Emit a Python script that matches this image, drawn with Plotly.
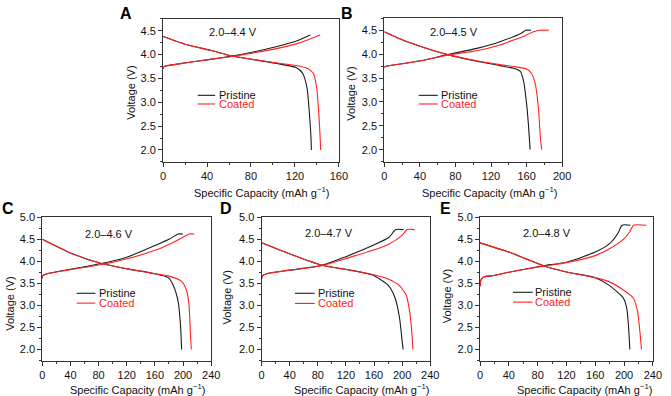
import plotly.graph_objects as go

W, H = 671, 396
FONT = "Arial, Liberation Sans, sans-serif"
BLACK = "#1a1a1a"
RED = "#ff2222"

# ---------------- data (capacity in mAh/g, voltage in V) ----------------
# Panel A: 2.0-4.4 V
A_pri_chg_cap = [0, 0.5, 2, 10, 21, 43, 63, 81, 102, 122, 134]
A_pri_chg_v = [3.70, 3.74, 3.76, 3.79, 3.83, 3.90, 3.97, 4.05, 4.16, 4.29, 4.41]
A_coa_chg_cap = [0, 0.5, 2, 10, 21, 43, 63, 81, 102, 122, 134, 143]
A_coa_chg_v = [3.70, 3.74, 3.76, 3.79, 3.83, 3.90, 3.96, 4.03, 4.12, 4.23, 4.33, 4.41]
A_pri_dis_cap = [0, 21, 43, 63, 81, 102, 121, 127, 131, 133, 134.5, 135]
A_pri_dis_v = [4.38, 4.21, 4.09, 3.97, 3.90, 3.82, 3.73, 3.61, 3.30, 2.82, 2.32, 2.00]
A_coa_dis_cap = [0, 21, 43, 63, 81, 102, 121, 131.5, 136.8, 139.8, 141.6, 142.8, 143.4]
A_coa_dis_v = [4.38, 4.21, 4.09, 3.97, 3.90, 3.83, 3.77, 3.71, 3.61, 3.30, 2.82, 2.32, 2.00]

# Panel B: 2.0-4.5 V
B_pri_chg_cap = [0, 0.5, 3, 20, 41, 71, 104, 130, 155, 159, 165]
B_pri_chg_v = [3.71, 3.74, 3.75, 3.80, 3.86, 3.99, 4.12, 4.26, 4.45, 4.50, 4.50]
B_coa_chg_cap = [0, 0.5, 3, 20, 41, 71, 104, 130, 146, 155, 168, 175, 185]
B_coa_chg_v = [3.71, 3.74, 3.75, 3.80, 3.86, 3.98, 4.07, 4.19, 4.30, 4.36, 4.47, 4.50, 4.50]
B_pri_dis_cap = [0, 20, 41, 71, 104, 130, 146, 153, 156.6, 160, 162, 164]
B_pri_dis_v = [4.47, 4.30, 4.16, 3.99, 3.85, 3.76, 3.70, 3.64, 3.44, 2.97, 2.55, 2.00]
B_coa_dis_cap = [0, 20, 41, 71, 104, 130, 146, 160, 165.4, 170, 173.6, 175.5, 177]
B_coa_dis_v = [4.47, 4.30, 4.16, 3.99, 3.86, 3.78, 3.74, 3.69, 3.60, 3.36, 2.81, 2.26, 2.00]

# Panel C: 2.0-4.6 V
C_pri_chg_cap = [0, 1, 7, 40, 84, 121, 160, 180, 193, 200]
C_pri_chg_v = [3.61, 3.68, 3.72, 3.82, 3.95, 4.10, 4.36, 4.50, 4.62, 4.62]
C_coa_chg_cap = [0, 1, 7, 40, 84, 121, 160, 186, 205, 209, 216]
C_coa_chg_v = [3.61, 3.68, 3.72, 3.81, 3.93, 4.06, 4.25, 4.43, 4.59, 4.62, 4.62]
C_pri_dis_cap = [0, 40, 84, 121, 160, 179, 186, 193, 196.3, 198]
C_pri_dis_v = [4.50, 4.19, 3.95, 3.83, 3.72, 3.63, 3.46, 3.09, 2.57, 2.00]
C_coa_dis_cap = [0, 40, 84, 121, 160, 179, 197.6, 204.7, 208.4, 210.3, 211.7]
C_coa_dis_v = [4.50, 4.19, 3.95, 3.83, 3.72, 3.67, 3.55, 3.35, 3.02, 2.42, 2.00]

# Panel D: 2.0-4.7 V
D_pri_chg_cap = [0, 1, 7, 40, 86, 119, 158, 181, 191, 202]
D_pri_chg_v = [3.60, 3.67, 3.72, 3.80, 3.91, 4.10, 4.36, 4.54, 4.72, 4.72]
D_coa_chg_cap = [0, 1, 7, 40, 86, 119, 158, 181, 200, 207, 218]
D_coa_chg_v = [3.60, 3.67, 3.72, 3.80, 3.90, 4.06, 4.25, 4.39, 4.59, 4.72, 4.72]
D_pri_dis_cap = [0, 40, 86, 119, 158, 180, 190, 196.3, 199.5, 201.4]
D_pri_dis_v = [4.42, 4.17, 3.91, 3.82, 3.69, 3.46, 3.17, 2.72, 2.27, 2.00]
D_coa_dis_cap = [0, 40, 86, 119, 158, 180, 195.4, 205.6, 210.7, 214, 215.4]
D_coa_dis_v = [4.42, 4.17, 3.91, 3.82, 3.70, 3.60, 3.46, 3.24, 2.87, 2.35, 2.00]

# Panel E: 2.0-4.8 V
E_pri_chg_cap = [0, 1.4, 6, 19.5, 42, 88, 120, 160, 179, 192, 197, 209]
E_pri_chg_v = [3.43, 3.58, 3.65, 3.68, 3.76, 3.90, 3.98, 4.21, 4.39, 4.65, 4.82, 4.82]
E_coa_chg_cap = [0, 1.4, 6, 19.5, 42, 88, 120, 160, 179, 199, 208, 213, 231]
E_coa_chg_v = [3.43, 3.58, 3.65, 3.68, 3.76, 3.89, 3.97, 4.13, 4.28, 4.50, 4.67, 4.82, 4.82]
E_pri_dis_cap = [0, 40, 80, 88, 120, 160, 179, 199, 203.7, 206, 208]
E_pri_dis_v = [4.42, 4.21, 3.95, 3.90, 3.76, 3.63, 3.46, 3.17, 2.94, 2.57, 2.00]
E_coa_dis_cap = [0, 40, 80, 88, 120, 160, 179, 199, 212.8, 218.7, 221.9, 224.2]
E_coa_dis_v = [4.42, 4.21, 3.95, 3.90, 3.76, 3.63, 3.54, 3.35, 3.17, 2.87, 2.42, 2.00]

panel_letters = ["A", "B", "C", "D", "E"]
window_labels = ["2.0–4.4 V", "2.0–4.5 V", "2.0–4.6 V", "2.0–4.7 V", "2.0–4.8 V"]
series_names = ["Pristine", "Coated"]
x_title = "Specific Capacity (mAh g<sup>−1</sup>)"
y_title = "Voltage (V)"

# ---------------- layout geometry (pixels) ----------------
panels = [
    dict(dom=(163, 342, 13, 158.3), xr=[0, 160], yr=[1.75, 4.75],
         data=[(A_pri_chg_cap, A_pri_chg_v, 0), (A_pri_dis_cap, A_pri_dis_v, 0),
               (A_coa_chg_cap, A_coa_chg_v, 1), (A_coa_dis_cap, A_coa_dis_v, 1)],
         letter=(125, 8), label=(234, 26.7), leg=(198.3, 216, 90.7, 99.5, 217.5),
         xt=(263, 189), yt=(130.5, 88)),
    dict(dom=(388.3, 569.3, 12.5, 158), xr=[0, 200], yr=[1.75, 4.75],
         data=[(B_pri_chg_cap, B_pri_chg_v, 0), (B_pri_dis_cap, B_pri_dis_v, 0),
               (B_coa_chg_cap, B_coa_chg_v, 1), (B_coa_dis_cap, B_coa_dis_v, 1)],
         letter=(350, 8), label=(459, 26.7), leg=(423.3, 442.7, 90.7, 99.5, 444),
         xt=(495, 189), yt=(353.5, 89)),
    dict(dom=(40, 212, 214.5, 360), xr=[0, 240], yr=[1.75, 5.0],
         data=[(C_pri_chg_cap, C_pri_chg_v, 0), (C_pri_dis_cap, C_pri_dis_v, 0),
               (C_coa_chg_cap, C_coa_chg_v, 1), (C_coa_dis_cap, C_coa_dis_v, 1)],
         letter=(5, 205.5), label=(107.5, 231.7), leg=(75, 94, 291.7, 301.7, 95.7),
         xt=(137, 389), yt=(7.5, 302)),
    dict(dom=(263.3, 435, 214.5, 360), xr=[0, 240], yr=[1.75, 5.0],
         data=[(D_pri_chg_cap, D_pri_chg_v, 0), (D_pri_dis_cap, D_pri_dis_v, 0),
               (D_coa_chg_cap, D_coa_chg_v, 1), (D_coa_dis_cap, D_coa_dis_v, 1)],
         letter=(227, 205.5), label=(331.7, 230), leg=(297.3, 317.3, 291.7, 302, 318.7),
         xt=(365, 389), yt=(228, 296)),
    dict(dom=(485.7, 661.7, 214.5, 360), xr=[0, 240], yr=[1.75, 5.0],
         data=[(E_pri_chg_cap, E_pri_chg_v, 0), (E_pri_dis_cap, E_pri_dis_v, 0),
               (E_coa_chg_cap, E_coa_chg_v, 1), (E_coa_dis_cap, E_coa_dis_v, 1)],
         letter=(450.5, 205.5), label=(553.7, 230.3), leg=(519.3, 539.3, 290.7, 300.7, 540),
         xt=(592, 388.5), yt=(451.7, 295)),
]


def px(x):
    return x / W


def py(y):
    return 1 - y / H


colors = [BLACK, RED]
fig = go.Figure()
annotations = []
shapes = []
layout = dict(width=W, height=H, margin=dict(l=0, r=0, t=0, b=0),
              paper_bgcolor="white", plot_bgcolor="white", showlegend=False,
              font=dict(family=FONT, size=11, color="#111"))

for i, p in enumerate(panels):
    n = "" if i == 0 else str(i + 1)
    x0, x1, y0, y1 = p["dom"]
    for cap, v, s in p["data"]:
        fig.add_trace(go.Scatter(x=cap, y=v, mode="lines", name=series_names[s],
                                 line=dict(color=colors[s], width=1.1, shape="spline", smoothing=0.6),
                                 xaxis="x" + n, yaxis="y" + n, hoverinfo="skip"))
    axis_common = dict(showgrid=False, zeroline=False, showline=True, linecolor="#333",
                       linewidth=1, mirror=True, ticks="outside", ticklen=4, tickwidth=1,
                       tickcolor="#333", tickfont=dict(family=FONT, size=11, color="#111"))
    layout["xaxis" + n] = dict(axis_common, domain=[px(x0), px(x1)], range=p["xr"],
                               anchor="y" + n, tick0=0, dtick=40,
                               minor=dict(ticks="outside", ticklen=2, dtick=20, tickcolor="#333"))
    layout["yaxis" + n] = dict(axis_common, domain=[py(y1), py(y0)], range=p["yr"],
                               anchor="x" + n, tick0=2.0, dtick=0.5, tickformat=".1f",
                               minor=dict(ticks="outside", ticklen=2, dtick=0.25, tickcolor="#333"))
    annotations.append(dict(text="<b>%s</b>" % panel_letters[i], x=px(p["letter"][0]), y=py(p["letter"][1]),
                            xref="paper", yref="paper", showarrow=False, xanchor="center", yanchor="middle",
                            font=dict(family=FONT, size=16, color="#000")))
    annotations.append(dict(text=window_labels[i], x=px(p["label"][0]), y=py(p["label"][1]),
                            xref="paper", yref="paper", showarrow=False, xanchor="center", yanchor="middle",
                            font=dict(family=FONT, size=11, color="#111")))
    lx0, lx1, ly_a, ly_b, tx = p["leg"]
    for s, ly in enumerate([ly_a, ly_b]):
        shapes.append(dict(type="line", xref="paper", yref="paper", x0=px(lx0), x1=px(lx1),
                           y0=py(ly), y1=py(ly), line=dict(color=colors[s], width=1.1)))
        annotations.append(dict(text=series_names[s], x=px(tx), y=py(ly - 0.3), xref="paper", yref="paper",
                                showarrow=False, xanchor="left", yanchor="middle",
                                font=dict(family=FONT, size=11, color=colors[s] if s else "#111")))
    annotations.append(dict(text=x_title, x=px(p["xt"][0]), y=py(p["xt"][1]), xref="paper", yref="paper",
                            showarrow=False, xanchor="center", yanchor="middle",
                            font=dict(family=FONT, size=11, color="#111")))
    annotations.append(dict(text=y_title, x=px(p["yt"][0]), y=py(p["yt"][1]), xref="paper", yref="paper",
                            showarrow=False, xanchor="center", yanchor="middle", textangle=-90,
                            font=dict(family=FONT, size=11, color="#111")))

layout["annotations"] = annotations
layout["shapes"] = shapes
fig.update_layout(**layout)
fig.write_html("out.html", config={"displayModeBar": False},
               post_script="document.body.style.margin='0';document.body.style.overflow='hidden';")
